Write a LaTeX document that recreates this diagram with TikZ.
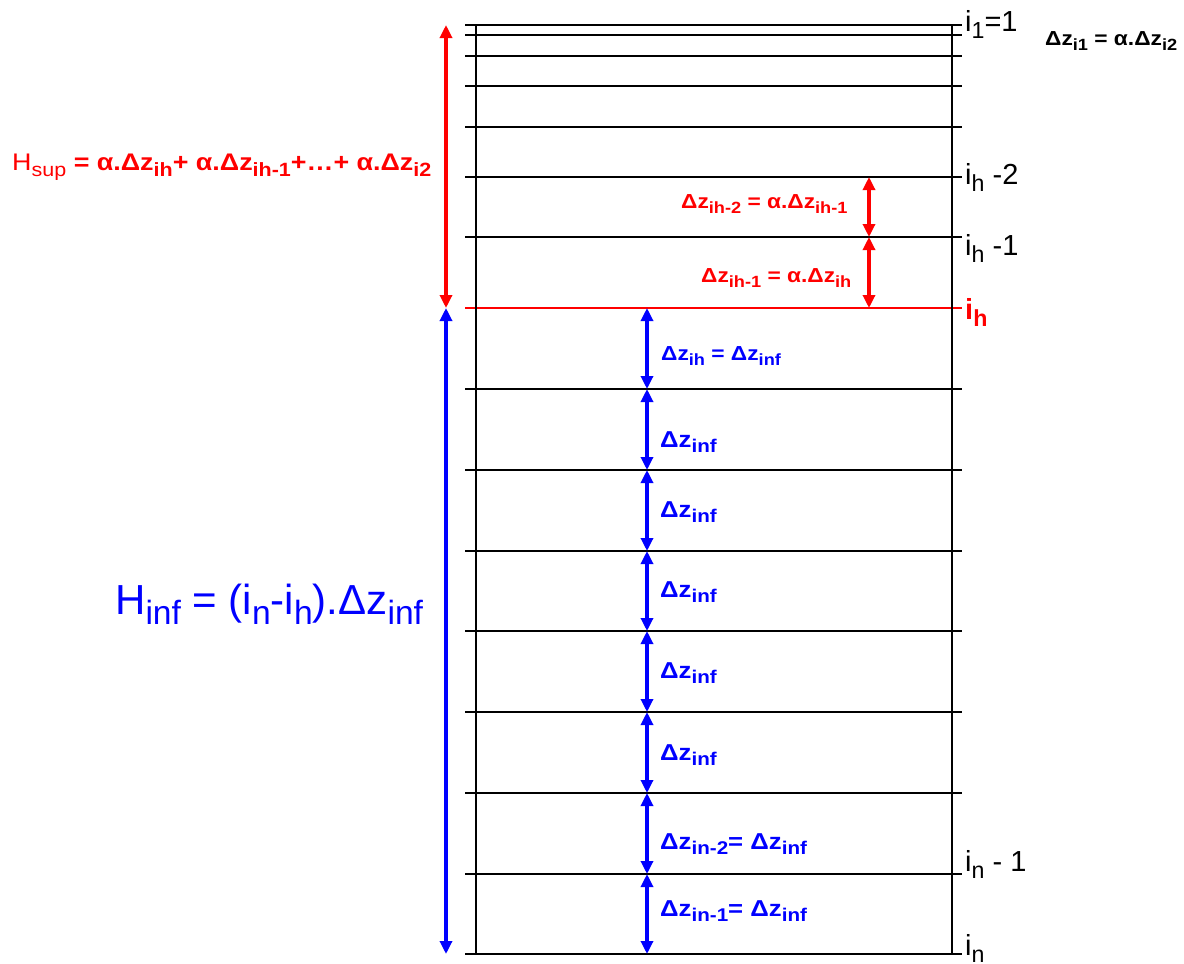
\documentclass[tikz,border=0pt]{standalone}
\usepackage{fontspec}
\setmainfont{Liberation Sans}
\newfontfamily\lblfont[FakeStretch=1.12]{Liberation Sans}
\usetikzlibrary{arrows.meta}
\definecolor{hred}{RGB}{255,0,0}
\definecolor{hblue}{RGB}{0,0,255}
\makeatletter
\newcommand{\lo}[1]{\raisebox{-.25em}{\fontsize{\fpeval{0.8*\f@size}}{0}\selectfont #1}}
\makeatother

\begin{document}
\begin{tikzpicture}[x=1pt,y=-1pt,
  lvl/.style={draw=black,line width=1.3pt},
  ihline/.style={draw=hred,line width=1.2pt},
  darr/.style={line width=3.2pt,
    {Triangle[width=12pt,length=13pt]}-{Triangle[width=12pt,length=13pt]}},
  ilab/.style={anchor=base west,inner sep=0pt,font=\fontsize{29}{33}\selectfont},
  dlab/.style={anchor=base west,inner sep=0pt,font=\fontsize{20.3}{24}\lblfont\bfseries},
  dbig/.style={dlab,font=\fontsize{23}{27}\lblfont\bfseries}]
 \useasboundingbox (0,0) rectangle (1184,964);
 % levels of the vertical grid
 \foreach \yy [count=\k] in {25,35,56,86,127,177,237,308,389,470,551,631,712,793,874,954}{
   \coordinate (L\k) at (465,\yy);
   \coordinate (R\k) at (962,\yy);
 }
 \foreach \k in {1,...,7,9,10,...,16} \draw[lvl] (L\k) -- (R\k);
 \draw[ihline] (L8) -- (R8);
 \coordinate (vl) at (476,0);
 \coordinate (vr) at (952,0);
 \draw[lvl] (vl |- L1) -- (vl |- L16);
 \draw[lvl] (vr |- L1) -- (vr |- L16);
 % arrows
 \coordinate (ax) at (446,0);
 \coordinate (rx) at (869,0);
 \coordinate (bx) at (647,0);
 \draw[darr,hred] (ax |- L1) -- (ax |- L8);
 \draw[darr,hblue] (ax |- L8) -- (ax |- L16);
 \draw[darr,hred] (rx |- L6) -- (rx |- L7);
 \draw[darr,hred] (rx |- L7) -- (rx |- L8);
 \foreach \k [evaluate=\k as \n using int(\k+1)] in {8,...,15}
   \draw[darr,hblue] (bx |- L\k) -- (bx |- L\n);
 % level names
 \node[ilab] (i1) at (965,31) {i\lo{1}=1};
 \node[ilab] (ih2) at (965,184) {i\lo{h} -2};
 \node[ilab] (ih1) at (965,255) {i\lo{h} -1};
 \node[ilab,text=hred,font=\fontsize{29}{33}\selectfont\bfseries] (ih) at (965,319) {i\lo{h}};
 \node[ilab] (in1) at (965,871) {i\lo{n} - 1};
 \node[ilab] (in) at (965,955) {i\lo{n}};
 % thickness labels
 \node[dlab] (dz1) at (1045,45) {Δz\lo{i1} = α.Δz\lo{i2}};
 \node[dlab,text=hred] (dzh2) at (681,208) {Δz\lo{ih-2} = α.Δz\lo{ih-1}};
 \node[dlab,text=hred] (dzh1) at (701,282) {Δz\lo{ih-1} = α.Δz\lo{ih}};
 \node[dlab,text=hblue] (dzh) at (661,360) {Δz\lo{ih} = Δz\lo{inf}};
 \foreach \yy [count=\k] in {447,517,597,678,760}
   \node[dbig,text=hblue] (dzi\k) at (660,\yy) {Δz\lo{inf}};
 \node[dbig,text=hblue] (dzn2) at (660,849) {Δz\lo{in-2}= Δz\lo{inf}};
 \node[dbig,text=hblue] (dzn1) at (660,916) {Δz\lo{in-1}= Δz\lo{inf}};
 % heights
 \node[anchor=base west,inner sep=0pt,text=hred,font=\fontsize{24}{28}\lblfont\bfseries]
   (hsup) at (12,170) {{\mdseries H\lo{sup}} = α.Δz\lo{ih}+ α.Δz\lo{ih-1}+…+ α.Δz\lo{i2}};
 \node[anchor=base west,inner sep=0pt,text=hblue,font=\fontsize{42}{48}\selectfont]
   (hinf) at (115,614) {H\lo{inf} = (i\lo{n}-i\lo{h}).Δz\lo{inf}};
\end{tikzpicture}
\end{document}
